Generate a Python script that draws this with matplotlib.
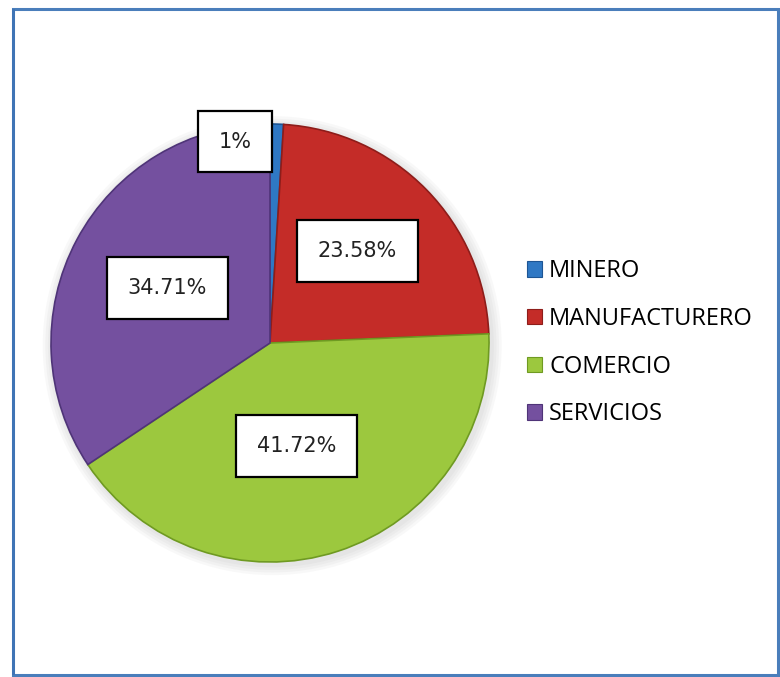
import matplotlib
matplotlib.use("Agg")
import matplotlib.pyplot as plt
from matplotlib.patches import Rectangle, Patch

# sector shares (%)
sectores = ["MINERO", "MANUFACTURERO", "COMERCIO", "SERVICIOS"]
porcentajes = [1, 23.58, 41.72, 34.71]
etiquetas = ["1%", "23.58%", "41.72%", "34.71%"]
colores = ["#2f78c4", "#c42c28", "#9cc83e", "#74509f"]
bordes = ["#1d5594", "#8e1d1a", "#6f9a22", "#4f3478"]

# where each value box sits, in pie units (radius = 1)
pos_etiquetas = [(-0.16, 0.92), (0.40, 0.42), (0.12, -0.47), (-0.47, 0.25)]

W, H = 780, 677
fig = plt.figure(figsize=(W / 100, H / 100), dpi=100)
fig.patch.set_facecolor("white")

# outer blue frame
fig.add_artist(Rectangle((13 / W, 2 / H), 765 / W, 666 / H, transform=fig.transFigure,
                         fill=False, edgecolor="#4a7ebb", linewidth=2.2))
fig.add_artist(Rectangle((12 / W, 2 / H), 3 / W, 666 / H, transform=fig.transFigure,
                         facecolor="#3f74b5", edgecolor="none"))

cx, cy, r = 270, 343, 219
ax = fig.add_axes([(cx - r) / W, (H - cy - r) / H, 2 * r / W, 2 * r / H])

# soft shadow behind the pie
for k in range(4):
    ax.add_patch(plt.Circle((0.01, -0.012), 1.0 + 0.012 * (4 - k), color="#808080",
                            alpha=0.05, zorder=0, linewidth=0, clip_on=False))

wedges, _ = ax.pie(porcentajes, colors=colores, startangle=90, counterclock=False,
                   radius=1.0, wedgeprops=dict(linewidth=1.2))
for w, b in zip(wedges, bordes):
    w.set_edgecolor(b)
    w.set_zorder(2)

for txt, (x, y) in zip(etiquetas, pos_etiquetas):
    ax.text(x, y, txt, ha="center", va="center", fontsize=15, color="#222222",
            zorder=5, bbox=dict(boxstyle="square,pad=1.0", facecolor="white",
                                edgecolor="black", linewidth=1.6))

ax.set_xlim(-1, 1)
ax.set_ylim(-1, 1)
ax.set_aspect("equal")
ax.axis("off")

handles = [Patch(facecolor=c, edgecolor=b, linewidth=0.8) for c, b in zip(colores, bordes)]
fig.legend(handles, sectores, loc="upper left", bbox_to_anchor=(518 / W, 1 - 250 / H),
           frameon=False, prop={"family": "Open Sans", "size": 17}, handlelength=0.62,
           handleheight=0.62, handletextpad=0.3, labelspacing=1.0, borderaxespad=0)

fig.savefig("out.png", dpi=100, facecolor="white")
